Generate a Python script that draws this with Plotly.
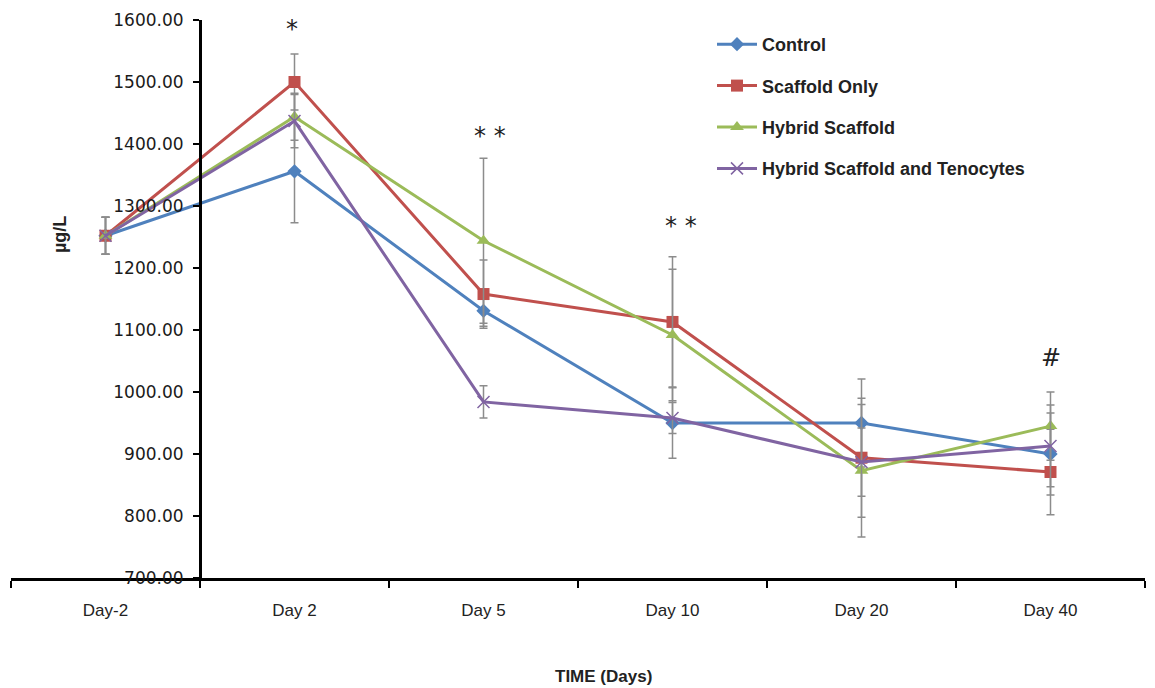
import plotly.graph_objects as go

days = ["Day-2", "Day 2", "Day 5", "Day 10", "Day 20", "Day 40"]

control = [1252, 1356, 1131, 950, 950, 900]
control_err = [30, 83, 25, 57, 71, 66]

scaffold_only = [1252, 1500, 1158, 1113, 894, 871]
scaffold_only_err = [30, 45, 55, 105, 96, 69]

hybrid = [1252, 1444, 1244, 1092, 873, 945]
hybrid_err = [30, 38, 133, 106, 107, 55]

hybrid_teno = [1252, 1437, 984, 958, 887, 913]
hybrid_teno_err = [30, 43, 26, 25, 55, 66]

sig_labels = ["", "*", "* *", "* *", "", "#"]
sig_values = [None, 1585, 1413, 1268, None, 1055]
sig_xshift = [0, -3, 6, 8, 0, 0]

Y_MIN, Y_MAX = 700, 1600

series = [
    ("Control", control, control_err, "#4F81BD", "diamond", 11),
    ("Scaffold Only", scaffold_only, scaffold_only_err, "#C0504D", "square", 12),
    ("Hybrid Scaffold", hybrid, hybrid_err, "#9BBB59", "triangle-up", 12),
    ("Hybrid Scaffold and Tenocytes", hybrid_teno, hybrid_teno_err, "#8064A2", "x-thin", 12),
]

fig = go.Figure()
for name, vals, err, color, sym, size in series:
    marker = dict(symbol=sym, size=size, color=color)
    if sym == "x-thin":
        marker["line"] = dict(color=color, width=1.5)
    fig.add_trace(go.Scatter(
        x=days, y=vals, name=name, mode="lines+markers",
        line=dict(color=color, width=3),
        marker=marker,
        legendgroup=name,
        error_y=dict(type="data", array=err, visible=True,
                     color="#8C8C8C", thickness=1.5, width=4),
    ))

for d, lab, v, xs in zip(days, sig_labels, sig_values, sig_xshift):
    if lab:
        fig.add_annotation(x=d, xref="x", yref="paper", y=(v - Y_MIN) / (Y_MAX - Y_MIN),
                           text=lab, showarrow=False, xshift=xs,
                           font=dict(family="DejaVu Sans", size=24, color="#222"),
                           xanchor="center", yanchor="middle")

# page has an 8px body margin; plot area spans 1134 x 558 px
fig.add_annotation(xref="paper", yref="paper", x=(603 - 11) / 1134, y=-(676 - 578) / 558,
                   text="<b>TIME (Days)</b>", showarrow=False,
                   font=dict(family="Liberation Sans", size=17, color="#222"),
                   xanchor="center", yanchor="middle")
fig.add_annotation(xref="paper", yref="paper", x=(60 - 11) / 1134, y=(578 - 235) / 558,
                   text="<b>µg/L</b>", showarrow=False, textangle=-90,
                   font=dict(family="Liberation Sans", size=18, color="#222"),
                   xanchor="center", yanchor="middle")

fig.update_layout(
    width=1147, height=680,
    margin=dict(l=3, r=10, t=12, b=110),
    plot_bgcolor="white", paper_bgcolor="white",
    showlegend=True,
    legend=dict(x=(712 - 11) / 1134, y=(578 - 26) / 558, xanchor="left", yanchor="top",
                font=dict(family="Liberation Sans", size=18, color="#222", weight="bold"),
                itemwidth=40, tracegroupgap=15, bgcolor="rgba(0,0,0,0)"),
    xaxis=dict(
        type="category", tickson="boundaries", ticks="outside", ticklen=7, tickwidth=2,
        tickcolor="black", showline=True, linewidth=3, linecolor="black",
        showgrid=False, zeroline=False, ticklabelstandoff=15,
        tickfont=dict(family="Liberation Sans", size=17, color="#222"),
        range=[-0.5, 5.5],
    ),
    yaxis=dict(
        anchor="free", position=1 / 6, range=[Y_MIN, Y_MAX], dtick=100, tickformat=".2f",
        ticks="outside", ticklen=6, tickwidth=2, tickcolor="black",
        showline=True, linewidth=3, linecolor="black",
        showgrid=False, zeroline=False, ticklabelstandoff=6,
        tickfont=dict(family="DejaVu Sans", size=17, color="#1a1a1a"),
    ),
)

fig.write_html("out.html")
